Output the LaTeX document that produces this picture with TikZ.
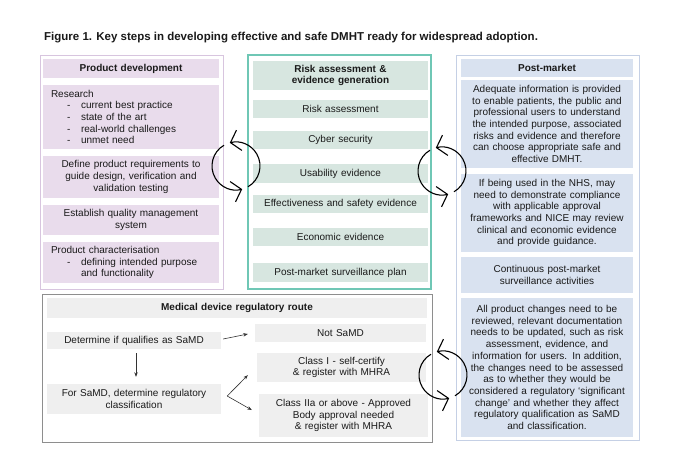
\documentclass[tikz,border=0pt]{standalone}
\usepackage{fontspec}
\setmainfont{Liberation Sans}
\usetikzlibrary{arrows.meta,calc}
\definecolor{pfill}{HTML}{E9DCEC}
\definecolor{pborder}{HTML}{D8C5DF}
\definecolor{gfill}{HTML}{D7E6E0}
\definecolor{gborder}{HTML}{6FC7B5}
\definecolor{bfill}{HTML}{D9E2F0}
\definecolor{bborder}{HTML}{C5D0E5}
\definecolor{rfill}{HTML}{EFEFEF}
\definecolor{rborder}{HTML}{8E8E8E}
\definecolor{txt}{HTML}{1A1A1A}
\definecolor{arrc}{HTML}{333333}
\newcommand{\mybul}{\hspace*{16pt}\makebox[14pt][l]{-}}
\newcommand{\myind}{\hspace*{30pt}}
\begin{document}
\begin{tikzpicture}[x=1pt,y=-1pt,
  base/.style={inner sep=0pt, align=center, font=\fontsize{10}{11.7}\selectfont, text=txt},
  pbox/.style={base, fill=pfill},
  gbox/.style={base, fill=gfill},
  bbox/.style={base, fill=bfill},
  rbox/.style={base, fill=rfill},
  hdr/.style={font=\bfseries\fontsize{10}{11.7}\selectfont},
  cyc/.style={line width=1.1pt, -{Straight Barb[length=9pt,width=21pt]}},
  sarr/.style={line width=0.6pt, draw=arrc, -{Stealth[length=4.5pt,width=3.5pt]}}]
\useasboundingbox (0,0) rectangle (680,450);
\fill[white] (0,0) rectangle (680,450);

% title
\node[anchor=base west, inner sep=0pt, text=txt, font=\bfseries\fontsize{11.5}{13}\selectfont] (title) at (44,40)
  {Figure 1. Key steps in developing effective and safe DMHT ready for widespread adoption.};

% ---------- Product development ----------
\draw[pborder, line width=1pt] (40,55) rectangle (223,289);
\node[pbox, hdr, minimum width=176, minimum height=19, text width=170] (pdh) at (131,68.5) {Product development};
\node[pbox, minimum width=176, minimum height=64, text width=160, align=left] (res) at (131,117)
  {Research\\ \mybul current best practice\\ \mybul state of the art\\ \mybul real-world challenges\\ \mybul unmet need};
\node[pbox, minimum width=176, minimum height=42, text width=170] (def) at (131,177)
  {Define product requirements to\\ guide design, verification and\\ validation testing};
\node[pbox, minimum width=176, minimum height=30, text width=170] (est) at (131,220)
  {Establish quality management\\ system};
\node[pbox, minimum width=176, minimum height=41, text width=160, align=left] (pch) at (131,262.5)
  {Product characterisation\\ \mybul defining intended purpose\\ \myind and functionality};

% ---------- Risk assessment ----------
\draw[gborder, line width=1.2pt] (248,55) rectangle (431,289);
\node[gbox, hdr, minimum width=175, minimum height=29, text width=170] (rah) at (340.5,75.5) {Risk assessment \&\\ evidence generation};
\node[gbox, minimum width=175, minimum height=18, text width=170] (ra) at (340.5,109) {Risk assessment};
\node[gbox, minimum width=175, minimum height=18, text width=170] (cs) at (340.5,140) {Cyber security};
\node[gbox, minimum width=175, minimum height=19, text width=170] (ue) at (340.5,173.5) {Usability evidence};
\node[gbox, minimum width=175, minimum height=18, text width=170] (es) at (340.5,204) {Effectiveness and safety evidence};
\node[gbox, minimum width=175, minimum height=18, text width=170] (ee) at (340.5,237) {Economic evidence};
\node[gbox, minimum width=175, minimum height=19, text width=170] (pms) at (340.5,272.5) {Post-market surveillance plan};

% ---------- Post-market ----------
\draw[bborder, line width=1pt] (456,55) rectangle (639,440);
\node[bbox, hdr, minimum width=172, minimum height=18, text width=168] (pmh) at (547,68) {Post-market};
\node[bbox, minimum width=172, minimum height=88, text width=168] (adq) at (547,124)
  {Adequate information is provided\\ to enable patients, the public and\\ professional users to understand\\ the intended purpose, associated\\ risks and evidence and therefore\\ can choose appropriate safe and\\ effective DMHT.};
\node[bbox, minimum width=172, minimum height=78, text width=168] (nhs) at (547,213)
  {If being used in the NHS, may\\ need to demonstrate compliance\\ with applicable approval\\ frameworks and NICE may review\\ clinical and economic evidence\\ and provide guidance.};
\node[bbox, minimum width=172, minimum height=36, text width=168] (cps) at (547,275)
  {Continuous post-market\\ surveillance activities};
\node[bbox, minimum width=172, minimum height=139, text width=168] (apc) at (547,367.5)
  {All product changes need to be\\ reviewed, relevant documentation\\ needs to be updated, such as risk\\ assessment, evidence, and\\ information for users. In addition,\\ the changes need to be assessed\\ as to whether they would be\\ considered a regulatory ‘significant\\ change’ and whether they affect\\ regulatory qualification as SaMD\\ and classification.};

% ---------- Regulatory route ----------
\draw[rborder, line width=1pt] (42,294) rectangle (432,442);
\node[rbox, hdr, minimum width=380, minimum height=20, text width=370] (mdh) at (237,308) {Medical device regulatory route};
\node[rbox, minimum width=174, minimum height=17, text width=170] (det) at (134,340.5) {Determine if qualifies as SaMD};
\node[rbox, minimum width=171, minimum height=18, text width=167] (ns) at (340.5,333) {Not SaMD};
\node[rbox, minimum width=169, minimum height=29, text width=165] (c1) at (341.5,367.5) {Class I - self-certify\\ \& register with MHRA};
\node[rbox, minimum width=174, minimum height=30, text width=170] (fs) at (134,399) {For SaMD, determine regulatory\\ classification};
\node[rbox, minimum width=169, minimum height=43, text width=165] (c2) at (343.5,415.5) {Class IIa or above - Approved\\ Body approval needed\\ \& register with MHRA};

\draw[sarr] ($(det.east)+(2,-1.5)$) -- ($(ns.west)+(-7,1)$);
\draw[sarr] ($(det.south)+(2,4)$) -- ($(fs.north)+(2,-7)$);
\coordinate (fk) at ($(fs.east)+(6,-3)$);
\draw[sarr] (fk) -- ($(c1.south west)+(-9,-7)$);
\draw[sarr] (fk) -- ($(c2.west)+(-7,-5.5)$);

% ---------- cycle icons ----------
\coordinate (cy1) at (236,166);
\coordinate (cy2) at (442,171);
\coordinate (cy3) at (443,375);
\foreach \c in {cy1,cy2,cy3}{
  \draw[cyc] ($(\c)+(60:24)$) arc[start angle=60,end angle=-105,radius=24];
  \draw[cyc] ($(\c)+(-120:24)$) arc[start angle=-120,end angle=-285,radius=24];
}
\end{tikzpicture}
\end{document}
